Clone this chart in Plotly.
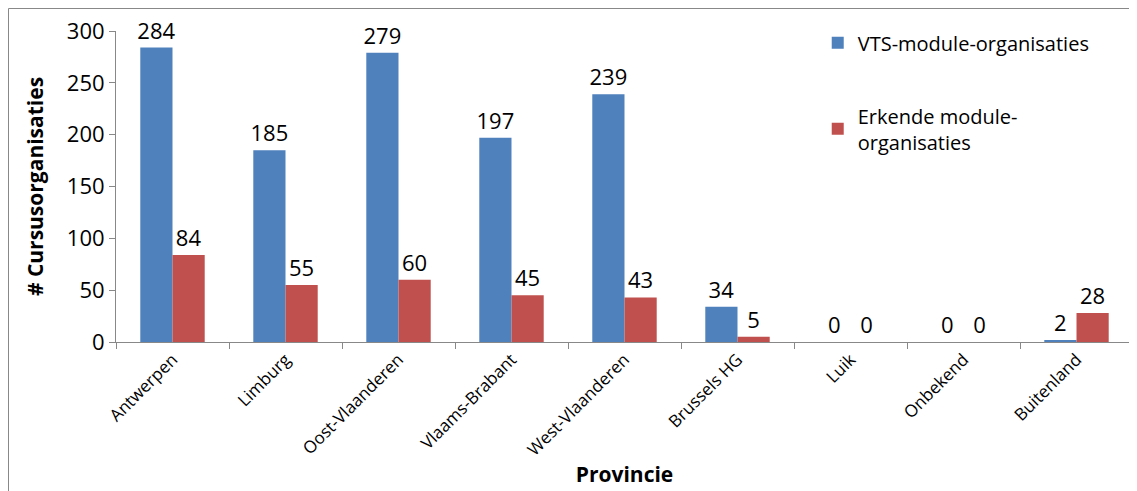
import plotly.graph_objects as go

provincies = ["Antwerpen", "Limburg", "Oost-Vlaanderen", "Vlaams-Brabant", "West-Vlaanderen",
              "Brussels HG", "Luik", "Onbekend", "Buitenland"]
vts = [284, 185, 279, 197, 239, 34, 0, 0, 2]
erkend = [84, 55, 60, 45, 43, 5, 0, 0, 28]

font_family = "Open Sans, Liberation Sans, sans-serif"

fig = go.Figure()
fig.add_trace(go.Bar(x=provincies, y=vts, name="VTS-module-organisaties",
                     marker_color="#4F81BD", text=vts, textposition="outside",
                     legendgroup="a", cliponaxis=False))
fig.add_trace(go.Bar(x=provincies, y=erkend, name="Erkende module-<br>organisaties",
                     marker_color="#C0504D", text=erkend, textposition="outside",
                     legendgroup="b", cliponaxis=False))

fig.update_traces(textfont=dict(size=22, color="black"), marker_line_width=0)

# page body has an 8px margin, so the figure is a bit smaller than the window
fig.update_layout(
    width=1129, height=483,
    barmode="group", bargap=0.43, bargroupgap=0,
    plot_bgcolor="white", paper_bgcolor="white",
    font=dict(family=font_family, color="black"),
    margin=dict(l=108, r=4, t=23, b=149, autoexpand=False),
    uniformtext=dict(minsize=22, mode="show"),
    legend=dict(x=0.69, y=1.025, xanchor="left", yanchor="top",
                font=dict(size=20), tracegroupgap=44, bgcolor="rgba(0,0,0,0)"),
    shapes=[dict(type="rect", xref="paper", yref="paper", x0=-0.1057, x1=1.003,
                 y0=-0.6, y1=1.0723, line=dict(color="#888888", width=1))],
)

fig.update_yaxes(range=[0, 300], dtick=50, showgrid=False, showline=True, linecolor="#888888",
                 linewidth=1, ticks="outside", ticklen=6, tickcolor="#888888",
                 tickfont=dict(size=22), zeroline=False,
                 title=dict(text="<b># Cursusorganisaties</b>", font=dict(size=21), standoff=17))
fig.update_xaxes(showgrid=False, showline=True, linecolor="#888888", linewidth=1,
                 ticks="outside", tickson="boundaries", ticklen=6, tickcolor="#888888",
                 tickangle=-45, tickfont=dict(size=17),
                 title=dict(text="<b>Provincie</b>", font=dict(size=21), standoff=8))

fig.write_html("out.html")
